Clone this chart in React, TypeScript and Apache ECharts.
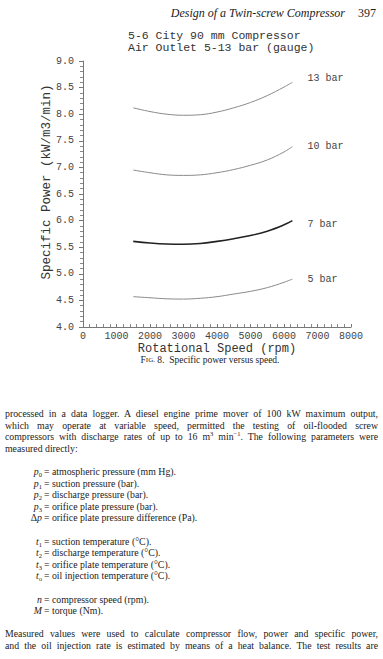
import React, { useEffect, useRef } from "react";
import * as echarts from "echarts";

// ---- data ----
const rpm = [1500, 2000, 2500, 3000, 3500, 4000, 4500, 5000, 5500, 6000, 6250];
const bar13 = [8.12, 8.05, 8.0, 7.98, 7.99, 8.04, 8.12, 8.22, 8.35, 8.51, 8.6];
const bar10 = [6.95, 6.9, 6.86, 6.85, 6.86, 6.9, 6.96, 7.04, 7.14, 7.29, 7.39];
const bar7 = [5.61, 5.58, 5.56, 5.555, 5.57, 5.61, 5.66, 5.72, 5.8, 5.92, 6.0];
const bar5 = [4.57, 4.55, 4.53, 4.525, 4.54, 4.57, 4.62, 4.67, 4.74, 4.84, 4.9];
const seriesNames = ["13 bar", "10 bar", "7 bar", "5 bar"];
const titleLines = ["5-6 City 90 mm Compressor", "Air Outlet 5-13 bar (gauge)"];
const xName = "Rotational Speed (rpm)";
const yName = "Specific Power (kW/m3/min)";
const header = "Design of a Twin-screw Compressor";
const pageNo = "397";

const MONO = '"Liberation Mono", "DejaVu Sans Mono", monospace';
const SERIF = '"Liberation Serif", "DejaVu Serif", serif';

const pairs = (vals: number[]) => rpm.map((r, i) => [r, vals[i]]);

function mkSeries(name: string, vals: number[], color: string, width: number, dy: number) {
  return {
    type: "line",
    name,
    data: pairs(vals),
    smooth: 0.4,
    showSymbol: false,
    symbol: "none",
    lineStyle: { color, width },
    endLabel: {
      show: true,
      formatter: name,
      distance: 15,
      offset: [0, dy],
      fontFamily: MONO,
      fontSize: 10,
      color: "#444",
    },
  };
}

export default function App() {
  const ref = useRef<HTMLDivElement>(null);
  useEffect(() => {
    if (!ref.current) return;
    const chart = echarts.init(ref.current, undefined, { renderer: "svg" });
    chart.setOption({
      animation: false,
      backgroundColor: "#fff",
      grid: { left: 83, top: 61, width: 268, height: 266, containLabel: false },
      xAxis: {
        type: "value",
        min: 0,
        max: 8000,
        interval: 1000,
        name: xName,
        nameLocation: "middle",
        nameGap: 15,
        nameTextStyle: { fontFamily: MONO, fontSize: 12, lineHeight: 12, color: "#333" },
        axisLine: { show: true, onZero: false, lineStyle: { color: "#777", width: 1 } },
        axisTick: { show: true, inside: true, length: 3, lineStyle: { color: "#777" } },
        minorTick: { show: true, splitNumber: 5, length: 3, lineStyle: { color: "#888" } },
        axisLabel: {
          margin: 4,
          fontFamily: MONO,
          fontSize: 10,
          lineHeight: 11,
          color: "#444",
          formatter: (v: number) => String(v),
        },
        splitLine: { show: false },
      },
      yAxis: {
        type: "value",
        min: 4,
        max: 9,
        interval: 0.5,
        axisLine: { show: true, lineStyle: { color: "#777", width: 1 } },
        axisTick: { show: true, inside: false, length: 4, lineStyle: { color: "#777" } },
        minorTick: { show: true, splitNumber: 5, length: 3, lineStyle: { color: "#888" } },
        axisLabel: {
          margin: 9,
          fontFamily: MONO,
          fontSize: 10,
          color: "#444",
          formatter: (v: number) => v.toFixed(1),
        },
        splitLine: { show: false },
      },
      series: [
        mkSeries(seriesNames[0], bar13, "#8a8a8a", 1, -4),
        mkSeries(seriesNames[1], bar10, "#8a8a8a", 1, 0),
        mkSeries(seriesNames[2], bar7, "#222", 1.6, 4),
        mkSeries(seriesNames[3], bar5, "#8a8a8a", 1, 0),
      ],
      graphic: [
        {
          type: "text",
          x: 345,
          y: 13,
          style: {
            text: header,
            align: "right",
            verticalAlign: "middle",
            fontFamily: SERIF,
            fontStyle: "italic",
            fontSize: 12,
            fill: "#222",
          },
        },
        {
          type: "text",
          x: 358,
          y: 13,
          style: {
            text: pageNo,
            align: "left",
            verticalAlign: "middle",
            fontFamily: SERIF,
            fontSize: 12,
            fill: "#222",
          },
        },
        {
          type: "text",
          x: 128,
          y: 35,
          style: {
            text: titleLines[0],
            align: "left",
            verticalAlign: "middle",
            fontFamily: MONO,
            fontSize: 11.5,
            fill: "#333",
          },
        },
        {
          type: "text",
          x: 128,
          y: 47,
          style: {
            text: titleLines[1],
            align: "left",
            verticalAlign: "middle",
            fontFamily: MONO,
            fontSize: 11.5,
            fill: "#333",
          },
        },
        {
          type: "text",
          x: 47,
          y: 182,
          rotation: Math.PI / 2,
          style: {
            text: yName,
            align: "center",
            verticalAlign: "middle",
            fontFamily: MONO,
            fontSize: 12.5,
            fill: "#333",
          },
        },
        {
          type: "text",
          x: 210,
          y: 360,
          style: {
            text: "{a|F}{b|IG.}{a| 8.  Specific power versus speed.}",
            align: "center",
            verticalAlign: "middle",
            fill: "#222",
            rich: {
              a: { fontFamily: SERIF, fontSize: 9.5, lineHeight: 10, fill: "#222" },
              b: { fontFamily: SERIF, fontSize: 7, lineHeight: 10, fill: "#222" },
            },
          },
        },
      ],
    });
    return () => chart.dispose();
  }, []);

  const lh = 11.6;
  const just: React.CSSProperties = {
    height: lh,
    textAlign: "justify",
    textAlignLast: "justify",
    whiteSpace: "nowrap",
  };
  const plain: React.CSSProperties = { height: lh, whiteSpace: "nowrap" };
  const blank = <div style={{ height: lh }} />;
  const defLine = (sym: React.ReactNode, text: string) => (
    <div style={{ height: lh, whiteSpace: "nowrap", display: "flex" }}>
      <span style={{ width: 37, textAlign: "right", display: "inline-block" }}>{sym}</span>
      <span>{"\u2009= " + text}</span>
    </div>
  );
  const sub = (s: string) => <sub style={{ fontSize: 6.5, verticalAlign: "-1.5px", lineHeight: 0 }}>{s}</sub>;

  return (
    <div style={{ position: "absolute", left: 0, top: 0, width: 383, height: 659, background: "#fff", overflow: "hidden" }}>
      <div ref={ref} style={{ position: "absolute", left: 0, top: 0, width: 383, height: 659 }} />
      <div
        style={{
          position: "absolute",
          left: 5,
          top: 408,
          width: 373,
          fontFamily: SERIF,
          fontSize: 9.8,
          lineHeight: lh + "px",
          color: "#222",
          pointerEvents: "none",
        }}
      >
        <div style={just}>processed in a data logger. A diesel engine prime mover of 100 kW maximum output,</div>
        <div style={just}>which may operate at variable speed, permitted the testing of oil-flooded screw</div>
        <div style={just}>
          compressors with discharge rates of up to 16 m<sup style={{ fontSize: 6.5, lineHeight: 0 }}>3</sup> min<sup style={{ fontSize: 6.5, lineHeight: 0 }}>{"\u22121"}</sup>. The following parameters were
        </div>
        <div style={plain}>measured directly:</div>
        {blank}
        {defLine(<><i>p</i>{sub("0")}</>, "atmospheric pressure (mm Hg).")}
        {defLine(<><i>p</i>{sub("1")}</>, "suction pressure (bar).")}
        {defLine(<><i>p</i>{sub("2")}</>, "discharge pressure (bar).")}
        {defLine(<><i>p</i>{sub("3")}</>, "orifice plate pressure (bar).")}
        {defLine(<>{"\u0394"}<i>p</i></>, "orifice plate pressure difference (Pa).")}
        {blank}
        {defLine(<><i>t</i>{sub("1")}</>, "suction temperature (\u00b0C).")}
        {defLine(<><i>t</i>{sub("2")}</>, "discharge temperature (\u00b0C).")}
        {defLine(<><i>t</i>{sub("3")}</>, "orifice plate temperature (\u00b0C).")}
        {defLine(<><i>t</i>{sub("o")}</>, "oil injection temperature (\u00b0C).")}
        {blank}
        {defLine(<i>n</i>, "compressor speed (rpm).")}
        {defLine(<i>M</i>, "torque (Nm).")}
        {blank}
        <div style={just}>Measured values were used to calculate compressor flow, power and specific power,</div>
        <div style={just}>and the oil injection rate is estimated by means of a heat balance. The test results are</div>
      </div>
    </div>
  );
}
